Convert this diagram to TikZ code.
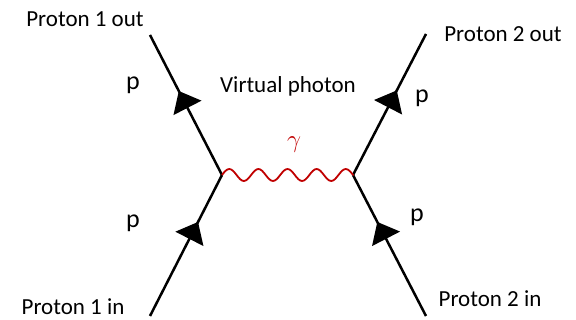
\documentclass[tikz,border=0pt]{standalone}
\usepackage{fontspec}
\setmainfont{Carlito}
\usepackage{tikz}
\usepackage{xcolor}
\usetikzlibrary{arrows.meta}
\usetikzlibrary{decorations.markings, positioning}
\definecolor{photonred}{RGB}{192,0,0}
\tikzset{
  pflow/.style={postaction={decorate}, decoration={markings,
      mark=at position #1 with {\arrow{Triangle[length=19pt, width=31pt]}}}},
  proton/.style={line width=2.5pt},
  wavy/.style={photonred, line width=1.8pt, line join=round},
  lbl/.style={anchor=center, font=\fontsize{23}{27}\selectfont},
  plbl/.style={anchor=center, font=\fontsize{26}{30}\selectfont},
}

\begin{document}
\begin{tikzpicture}[x=1pt, y=1pt]
        \useasboundingbox (0,0) rectangle (576,320);
        \coordinate (a) at (222,145);
        \coordinate [right=131pt of a] (b);
        \coordinate [above left=140pt and 72pt of a] (o1);
        \coordinate [below left=141pt and 72pt of a] (i1);
        \coordinate [above right=141pt and 73pt of b] (o2);
        \coordinate [below right=141pt and 73pt of b] (i2);

        \draw [proton, pflow=0.667] (i1) -- (a);
        \draw [proton, pflow=0.6] (a) -- (o1);
        \draw [proton, pflow=0.667] (i2) -- (b);
        \draw [proton, pflow=0.6] (b) -- (o2);
        % photon: 4.5 sine periods from a to b
        \draw [wavy] (a)
            \foreach \k in {1,...,4} {
                sin ++(7.28,6) cos ++(7.28,-6) sin ++(7.28,-6) cos ++(7.28,6)
            }
            sin ++(7.28,6) cos ++(7.28,-6) -- (b);

        \node [above left=16pt and 65pt of o1, lbl] (o1txt) {Proton 1 out};
        \node [above left=9pt and 77pt of i1, lbl] (i1txt) {Proton 1 in};
        \node [right=77pt of o2, lbl] (o2txt) {Proton 2 out};
        \node [above right=17pt and 64pt of i2, lbl] (i2txt) {Proton 2 in};
        \node [above right=89pt and 66pt of a, lbl] (virt) {Virtual photon};
        \node [above right=30pt and 72pt of a, anchor=center, photonred,
               font=\fontsize{28}{32}\selectfont] (gam) {$\gamma$};

        \node [above left=90pt and 89pt of a, plbl] (pa1) {p};
        \node [below left=48pt and 89pt of a, plbl] (pa2) {p};
        \node [above right=77pt and 69pt of b, plbl] (pb1) {p};
        \node [below right=42pt and 64pt of b, plbl] (pb2) {p};
    \end{tikzpicture}
\end{document}
